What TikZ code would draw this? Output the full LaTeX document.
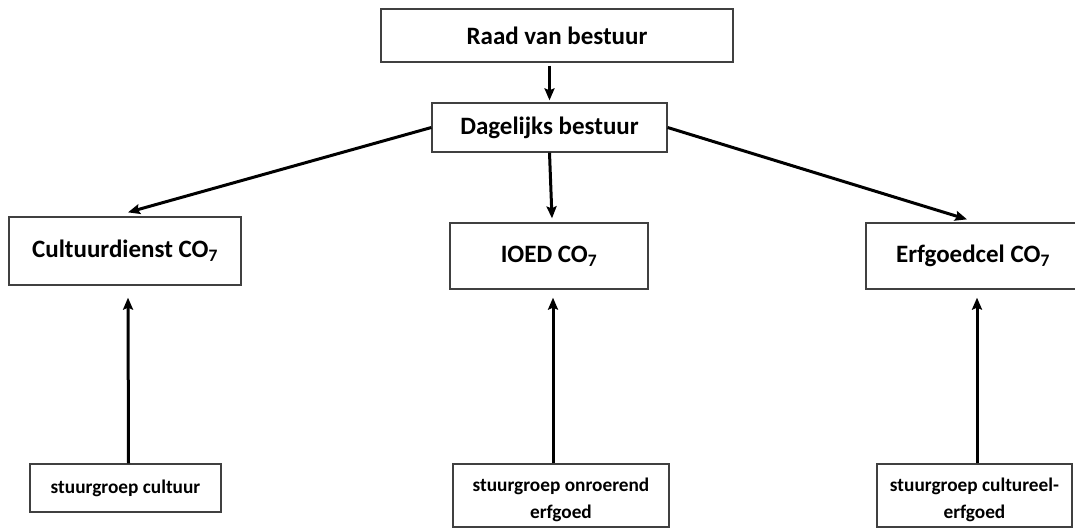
\documentclass[tikz,border=0pt]{standalone}
\usepackage{fontspec}
\setmainfont{Carlito}
\usetikzlibrary{arrows.meta,calc}
\tikzset{
  box/.style={draw=black!75, line width=1.3pt, fill=white, inner sep=0pt, align=center, font=\bfseries},
  big/.style={box, font=\fontsize{25}{30}\selectfont\bfseries},
  small/.style={box, font=\fontsize{19.3}{27}\selectfont\bfseries},
  arr/.style={line width=3pt, -{Stealth[length=12pt,width=10pt,inset=2pt]}}
}
\begin{document}
\begin{tikzpicture}[x=1pt,y=-1pt]
\useasboundingbox (0,0) rectangle (1075,528);
\node[big, minimum width=352pt, minimum height=53pt] (raad) at (557,35.5) {Raad van bestuur};
\node[big, minimum width=235pt, minimum height=49pt] (dag) at (549.5,127.5) {Dagelijks bestuur};
\node[big, minimum width=232pt, minimum height=68pt] (cult) at (125,251) {Cultuurdienst CO\textsubscript{7}};
\node[big, minimum width=198pt, minimum height=66pt] (ioed) at (549,256) {IOED CO\textsubscript{7}};
\node[big, minimum width=214pt, minimum height=66pt] (erf) at (973,256) {Erfgoedcel CO\textsubscript{7}};
\node[small, minimum width=191pt, minimum height=48pt] (sgc) at (125.5,488) {stuurgroep cultuur};
\node[small, minimum width=216pt, minimum height=63pt] (sgo) at (561,495.5) {\mbox{}\\[-5pt]stuurgroep onroerend\\erfgoed};
\node[small, minimum width=195pt, minimum height=63pt] (sge) at (974.5,495.5) {\mbox{}\\[-5pt]stuurgroep cultureel-\\erfgoed};
\draw[arr] ([yshift=-3pt]raad.south -| dag.north) -- ([yshift=2pt]dag.north);
\draw[arr] (dag.west) -- ([xshift=3pt,yshift=4pt]cult.north);
\draw[arr] (dag.south) -- ([xshift=3pt,yshift=4pt]ioed.north);
\draw[arr] (dag.east) -- ([xshift=-6pt,yshift=3pt]erf.north);
\draw[arr] ([xshift=3pt]sgc.north) -- ([xshift=3pt,yshift=-12pt]cult.south);
\draw[arr] ([xshift=-8pt]sgo.north) -- ([xshift=4pt,yshift=-8pt]ioed.south);
\draw[arr] ([xshift=2.5pt]sge.north) -- ([xshift=4pt,yshift=-8pt]erf.south);
\end{tikzpicture}
\end{document}
